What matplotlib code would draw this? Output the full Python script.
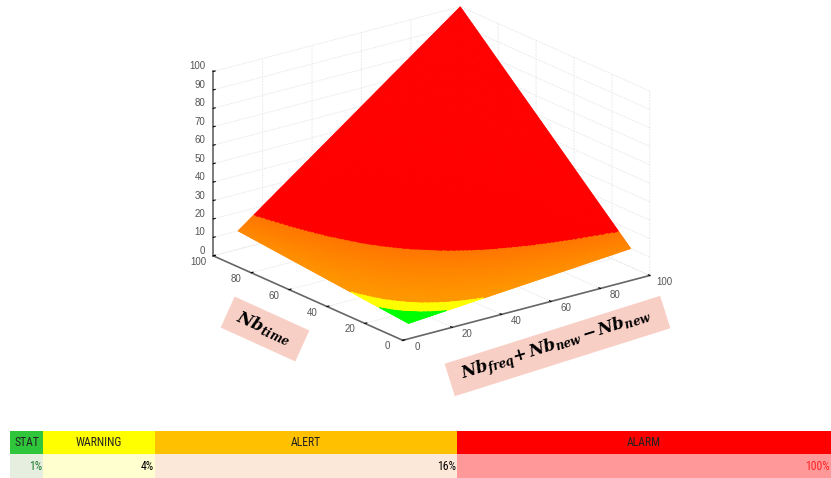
import numpy as np
from matplotlib import pyplot as plt
from matplotlib.patches import Rectangle
from mpl_toolkits.mplot3d import proj3d

# values at each grid node
nb_freq = [10, 20, 30, 40, 50, 60, 70, 80, 90, 100]
nb_time = [10, 20, 30, 40, 50, 60, 70, 80, 90, 100]
risk = [
    [1, 2, 3, 4, 5, 6, 7, 8, 9, 10],
    [2, 4, 6, 8, 10, 12, 14, 16, 18, 20],
    [3, 6, 9, 12, 15, 18, 21, 24, 27, 30],
    [4, 8, 12, 16, 20, 24, 28, 32, 36, 40],
    [5, 10, 15, 20, 25, 30, 35, 40, 45, 50],
    [6, 12, 18, 24, 30, 36, 42, 48, 54, 60],
    [7, 14, 21, 28, 35, 42, 49, 56, 63, 70],
    [8, 16, 24, 32, 40, 48, 56, 64, 72, 80],
    [9, 18, 27, 36, 45, 54, 63, 72, 81, 90],
    [10, 20, 30, 40, 50, 60, 70, 80, 90, 100],
]

xy_ticks = [0, 20, 40, 60, 80, 100]
z_ticks = [0, 10, 20, 30, 40, 50, 60, 70, 80, 90, 100]

status_labels = ["STAT", "WARNING", "ALERT", "ALARM"]
status_limits = ["1%", "4%", "16%", "100%"]
green_top = 2.5
warning_top = 4
alert_top = 16

# pixel layout of the status table
col_edges = [10, 43, 155, 457, 831]
head_colors = ["#2fc63c", "#ffff00", "#ffc000", "#ff0000"]
cell_colors = ["#e6efdf", "#ffffcf", "#fce8d9", "#ff9999"]
limit_colors = ["#1e7a2c", "black", "black", "#ff2020"]

W, H = 831, 478
TICK_COLOR = "#555555"
NARROW = ["Roboto Condensed", "Liberation Sans Narrow", "Liberation Sans"]

fig = plt.figure(figsize=(W / 100, H / 100), dpi=100)
ax = fig.add_axes([191.2 / W, 64.2 / H, 468 / W, 468 / H], projection="3d", proj_type="ortho")
ax.view_init(elev=20, azim=-127.5)
ax.set_box_aspect((1, 1, 0.63))
ax.patch.set_alpha(0)

# finer mesh only so the colour bands get smooth edges
fine = np.linspace(10, 100, 241)
rows = np.array([np.interp(fine, nb_freq, row) for row in risk])
z = np.array([np.interp(fine, nb_time, col) for col in rows.T]).T
x, y = np.meshgrid(fine, fine)

faces = np.zeros(z.shape + (4,))
faces[..., 3] = 1
faces[..., 0] = 1
faces[z <= warning_top, 1] = 1
faces[z <= green_top, 0] = 0
orange = (z > warning_top) & (z <= alert_top)
faces[orange, 1] = 0.60 - 0.14 * (z[orange] - warning_top) / (alert_top - warning_top)

ax.plot_surface(x, y, z, facecolors=faces, rstride=1, cstride=1, linewidth=0.4,
                antialiased=True, shade=False)

ax.set_xlim(0, 100)
ax.set_ylim(0, 100)
ax.set_zlim(0, 100)
ax.set_xticks(xy_ticks)
ax.set_yticks(xy_ticks)
ax.set_zticks(z_ticks)
ax.tick_params(labelleft=False, labelbottom=False, labelright=False, labeltop=False,
               labelsize=0, labelcolor="none")

for axis in (ax.xaxis, ax.yaxis, ax.zaxis):
    axis.set_pane_color((1, 1, 1, 0))
    axis.pane.set_edgecolor("#e8e8e8")
    axis.line.set_color("#666666")
    axis.line.set_linewidth(1.2)
    axis._axinfo["grid"].update(color="#ebebeb", linewidth=0.7, linestyle=(0, (2, 1)))
    axis._axinfo["tick"].update(inward_factor=0.0, outward_factor=0.1, color="#555555")
    axis.set_major_formatter(plt.NullFormatter())

plt.rcParams["mathtext.fontset"] = "dejavuserif"

# status table, tick labels and the pink caption boxes, in pixel coordinates
tab = fig.add_axes([0, 0, 1, 1])
tab.set_xlim(0, W)
tab.set_ylim(H, 0)
tab.axis("off")
tab.patch.set_alpha(0)


def to_pixels(px, py, pz):
    """Screen position of a point of the 3d axes, in the pixel axes."""
    sx, sy, _ = proj3d.proj_transform(px, py, pz, ax.get_proj())
    return tab.transData.inverted().transform(ax.transData.transform((sx, sy)))


label_style = dict(fontsize=7, color=TICK_COLOR, family="Liberation Sans", va="center")
for t in xy_ticks:
    sx, sy = to_pixels(t, 0, 0)
    tab.text(sx + 15, sy + 7, str(t), ha="center", **label_style)
    sx, sy = to_pixels(0, t, 0)
    tab.text(sx - 15, sy + 6, str(t), ha="center", **label_style)
for t in z_ticks:
    sx, sy = to_pixels(0, 100, t)
    tab.text(sx - 8, sy - 5, str(t), ha="right", **label_style)

widths = np.diff(col_edges)
tab.barh(442, widths, height=23, left=col_edges[:-1], color=head_colors)
tab.barh(465.5, widths, height=24, left=col_edges[:-1], color=cell_colors)
for i, name in enumerate(status_labels):
    tab.text((col_edges[i] + col_edges[i + 1]) / 2, 443, name, ha="center", va="center",
             fontsize=8.5, family=NARROW, color="#222222")
    tab.text(col_edges[i + 1] - 1, 466, status_limits[i], ha="right", va="center", fontsize=8.5,
             family=NARROW, color=limit_colors[i])

tab.add_patch(Rectangle((265 - 41, 329 - 17), 82, 34, angle=24.4, rotation_point="center",
                        facecolor="#f8cfc5", edgecolor="none"))
tab.add_patch(Rectangle((557.5 - 113, 346 - 17), 226, 34, angle=-17.5, rotation_point="center",
                        facecolor="#f8cfc5", edgecolor="none"))
tab.text(264, 328, r"$\mathbfit{Nb}_{\mathbfit{time}}$", fontsize=12, color="black",
         rotation=-24.4, rotation_mode="anchor", ha="center", va="center")
tab.text(556, 345,
         r"$\mathbfit{Nb}_{\mathbfit{freq}}\mathbf{+}\,\mathbfit{Nb}_{\mathbfit{new}}\,\mathbf{-}\,\mathbfit{Nb}_{\mathbfit{new}}$",
         fontsize=12, color="black", rotation=17.5, rotation_mode="anchor",
         ha="center", va="center")

fig.savefig("out.png", dpi=100)
